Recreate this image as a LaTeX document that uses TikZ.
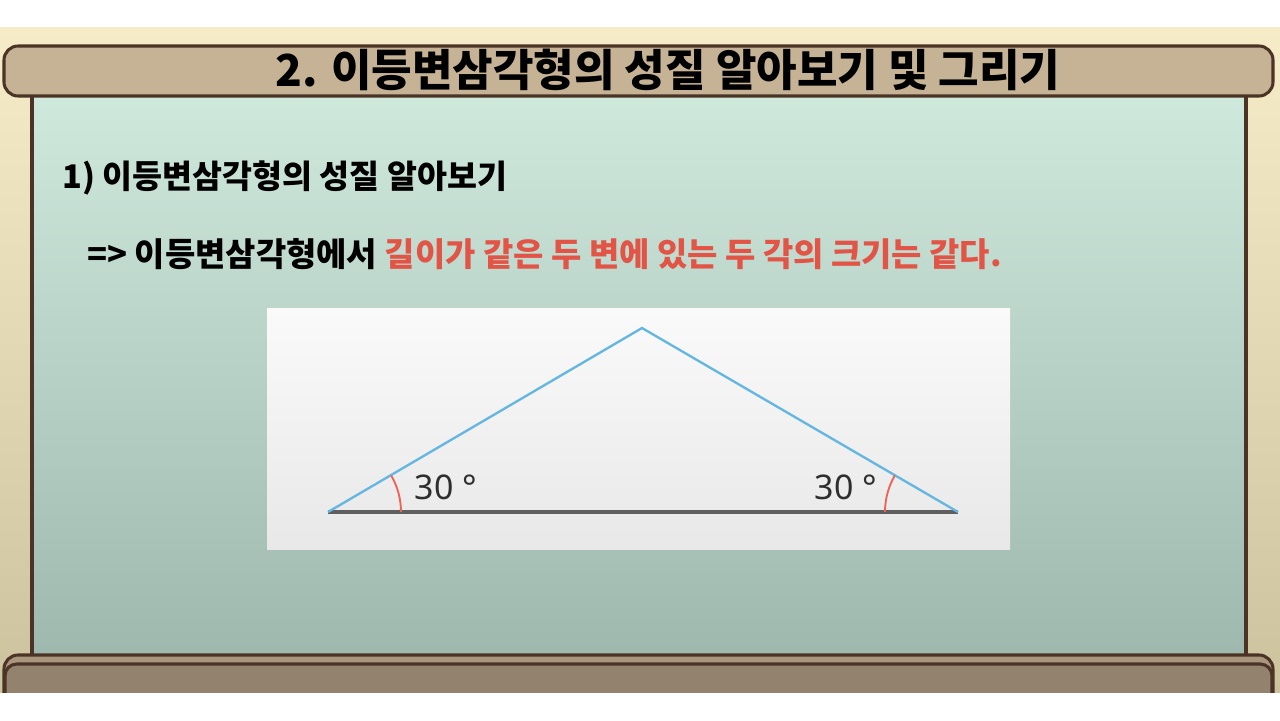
\documentclass[tikz,border=0pt]{standalone}
\usepackage{fontspec}
\setmainfont{Noto Sans CJK KR}
\newfontfamily\titlefont{Noto Sans CJK KR Black}
\newfontfamily\numfont{Noto Sans}

\definecolor{creamTop}{RGB}{246,237,200}
\definecolor{creamBot}{RGB}{205,194,158}
\definecolor{panelTop}{RGB}{208,233,221}
\definecolor{panelMid}{RGB}{194,221,209}
\definecolor{panelBot}{RGB}{158,184,174}
\definecolor{barFill}{RGB}{198,179,150}
\definecolor{footLight}{RGB}{170,150,124}
\definecolor{footFill}{RGB}{146,130,110}
\definecolor{frameLine}{RGB}{75,52,38}
\definecolor{ruleRed}{RGB}{226,84,70}
\definecolor{legBlue}{RGB}{102,182,226}
\definecolor{baseGray}{RGB}{95,95,95}
\definecolor{arcRed}{RGB}{236,100,88}

\tikzset{
  frame/.style={draw=frameLine,line width=2.6pt},
  titletext/.style={font=\titlefont\fontsize{37.6}{40}\selectfont,inner sep=0pt},
  headtext/.style={font=\fontsize{27.8}{30}\selectfont\bfseries,inner sep=0pt,anchor=west},
  ruletext/.style={headtext,font=\fontsize{28.1}{30}\selectfont\bfseries},
  anglelabel/.style={font=\numfont\fontsize{29}{32}\selectfont,text=black!82,inner sep=0pt},
  legline/.style={draw=legBlue,line width=2pt},
  baseline/.style={draw=baseGray,line width=2.6pt},
  anglemark/.style={draw=arcRed,line width=1.6pt}
}

\begin{document}
\begin{tikzpicture}[x=0.03cm,y=-0.03cm]
\useasboundingbox (0,0) rectangle (1280,720);

% screen
\fill[white] (0,0) rectangle (1280,720);
\shade[top color=creamTop,bottom color=creamBot] (0,27) rectangle (1280,692);

% board
\shade[top color=panelTop,middle color=panelMid,bottom color=panelBot] (32,90) rectangle (1246,660);
\draw[frame] (32,90) -- (32,660);
\draw[frame] (1246,90) -- (1246,660);

% title bar
\draw[frame,fill=barFill,rounded corners=12] (4,46) rectangle (1273,96);
\node[titletext] (title) at (668,70) {2. 이등변삼각형의 성질 알아보기 및 그리기};

% foot bar
\begin{scope}
\clip (0,0) rectangle (1280,692);
\draw[frame,fill=footLight,rounded corners=12] (4,655) rectangle (1273,760);
\draw[frame,fill=footFill,rounded corners=10] (5,664) rectangle (1272,760);
\end{scope}

% texts
\node[headtext] (head) at (62,178) {1) 이등변삼각형의 성질 알아보기};
\node[ruletext] (rule) at (87,254) {=> 이등변삼각형에서 \textcolor{ruleRed}{길이가 같은 두 변에 있는 두 각의 크기는 같다.}};

% figure
\shade[top color=white!98!black,bottom color=white!91!black] (267,308) rectangle (1010,549);
\coordinate (L) at (328,512);
\coordinate (T) at (642,328);
\coordinate (R) at (958,512);
\draw[baseline] (L) -- (R);
\draw[legline] (L) -- (T) -- (R);
\draw[anglemark] (L) ++(73,0) arc[start angle=0,end angle=-30,radius=73];
\draw[anglemark] (R) ++(-73,0) arc[start angle=180,end angle=210,radius=73];
\node[anglelabel] (angL) at (446,487) {30 °};
\node[anglelabel] (angR) at (846,487) {30 °};

\end{tikzpicture}
\end{document}
